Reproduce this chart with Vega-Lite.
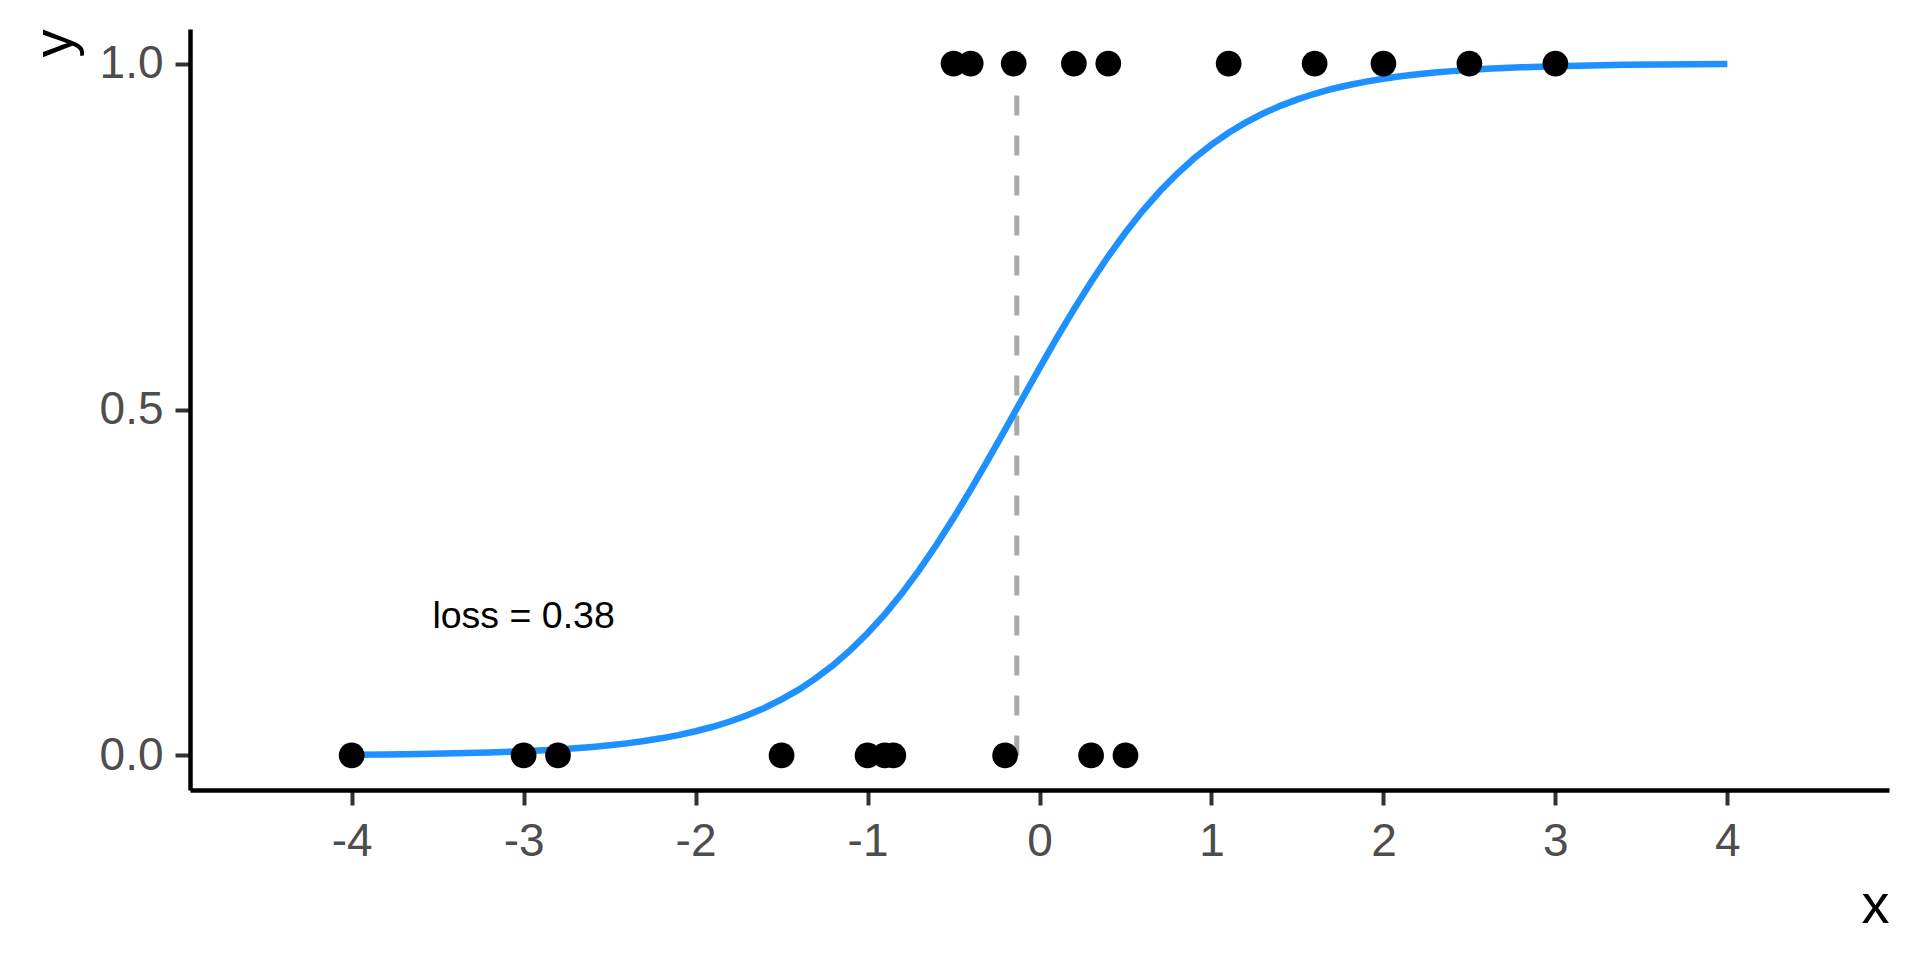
{
  "$schema": "https://vega.github.io/schema/vega-lite/v6.json",
  "width": 1699,
  "height": 761,
  "autosize": {"type": "none"},
  "padding": {"left": 190, "top": 29, "right": 31, "bottom": 170},
  "background": "white",
  "config": {
    "view": {"stroke": null},
    "font": "Liberation Sans",
    "axis": {
      "grid": false,
      "domainColor": "black",
      "domainWidth": 4.5,
      "tickColor": "#333333",
      "tickWidth": 4,
      "tickSize": 15,
      "labelColor": "#4D4D4D",
      "labelFont": "Liberation Sans",
      "labelFontSize": 46,
      "titleFont": "Liberation Sans",
      "titleFontSize": 56,
      "titleFontWeight": "normal",
      "titleColor": "black"
    }
  },
  "datasets": {
    "pts": [
      {"x": -4, "y": 0}, {"x": -3, "y": 0}, {"x": -2.8, "y": 0}, {"x": -1.5, "y": 0},
      {"x": -1, "y": 0}, {"x": -0.9, "y": 0}, {"x": -0.85, "y": 0}, {"x": -0.2, "y": 0},
      {"x": 0.3, "y": 0}, {"x": 0.5, "y": 0},
      {"x": -0.5, "y": 1}, {"x": -0.4, "y": 1}, {"x": -0.15, "y": 1}, {"x": 0.2, "y": 1},
      {"x": 0.4, "y": 1}, {"x": 1.1, "y": 1}, {"x": 1.6, "y": 1}, {"x": 2, "y": 1},
      {"x": 2.5, "y": 1}, {"x": 3, "y": 1}
    ],
    "curve": [
      {"x": -4.0, "p": 0.00103}, {"x": -3.8, "p": 0.00147}, {"x": -3.6, "p": 0.00209},
      {"x": -3.4, "p": 0.00298}, {"x": -3.2, "p": 0.00426}, {"x": -3.0, "p": 0.00606},
      {"x": -2.8, "p": 0.00862}, {"x": -2.6, "p": 0.0123}, {"x": -2.5, "p": 0.01462},
      {"x": -2.4, "p": 0.0174}, {"x": -2.3, "p": 0.02075},
      {"x": -2.2, "p": 0.0247}, {"x": -2.1, "p": 0.02937}, {"x": -2.0, "p": 0.0349},
      {"x": -1.9, "p": 0.0414}, {"x": -1.8, "p": 0.049}, {"x": -1.7, "p": 0.0581},
      {"x": -1.6, "p": 0.0686}, {"x": -1.5, "p": 0.0809}, {"x": -1.4, "p": 0.0951},
      {"x": -1.3, "p": 0.1116}, {"x": -1.2, "p": 0.1305}, {"x": -1.1, "p": 0.1521},
      {"x": -1.0, "p": 0.1766}, {"x": -0.9, "p": 0.2039}, {"x": -0.8, "p": 0.2343},
      {"x": -0.7, "p": 0.2678}, {"x": -0.6, "p": 0.3041}, {"x": -0.5, "p": 0.343},
      {"x": -0.4, "p": 0.3842}, {"x": -0.3, "p": 0.427}, {"x": -0.2, "p": 0.471},
      {"x": -0.1, "p": 0.5155}, {"x": 0.0, "p": 0.5597}, {"x": 0.1, "p": 0.603},
      {"x": 0.2, "p": 0.6447}, {"x": 0.3, "p": 0.6844}, {"x": 0.4, "p": 0.7215},
      {"x": 0.5, "p": 0.7558}, {"x": 0.6, "p": 0.7872}, {"x": 0.7, "p": 0.8155},
      {"x": 0.8, "p": 0.8408}, {"x": 0.9, "p": 0.8632}, {"x": 1.0, "p": 0.8829},
      {"x": 1.1, "p": 0.9001}, {"x": 1.2, "p": 0.915}, {"x": 1.3, "p": 0.9278},
      {"x": 1.4, "p": 0.9389}, {"x": 1.5, "p": 0.9483}, {"x": 1.6, "p": 0.9564},
      {"x": 1.7, "p": 0.9633}, {"x": 1.8, "p": 0.9691}, {"x": 1.9, "p": 0.974},
      {"x": 2.0, "p": 0.9781}, {"x": 2.1, "p": 0.9816}, {"x": 2.2, "p": 0.9846},
      {"x": 2.3, "p": 0.9871}, {"x": 2.4, "p": 0.9891}, {"x": 2.5, "p": 0.9909},
      {"x": 2.6, "p": 0.9924}, {"x": 2.8, "p": 0.9946}, {"x": 3.0, "p": 0.9962},
      {"x": 3.2, "p": 0.9974}, {"x": 3.4, "p": 0.9982}, {"x": 3.6, "p": 0.9987},
      {"x": 3.8, "p": 0.9991}, {"x": 4.0, "p": 0.9994}
    ],
    "boundary": [{"x": -0.132, "y0": 0, "y1": 1}],
    "note": [{"x": -3, "y": 0.2, "label": "loss = 0.38"}]
  },
  "layer": [
    {
      "data": {"name": "boundary"},
      "mark": {"type": "rule", "color": "#A9A9A9", "strokeWidth": 5, "strokeDash": [20, 20]},
      "encoding": {
        "x": {
          "field": "x", "type": "quantitative",
          "scale": {"domain": [-4.94, 4.94], "nice": false, "zero": false},
          "axis": {
            "title": "x",
            "values": [-4, -3, -2, -1, 0, 1, 2, 3, 4],
            "labelExpr": "'' + datum.value",
            "labelPadding": 14,
            "titleAnchor": "end",
            "titlePadding": 14
          }
        },
        "y": {
          "field": "y0", "type": "quantitative",
          "scale": {"domain": [-0.05, 1.05], "nice": false, "zero": false},
          "axis": {
            "title": "y",
            "values": [0, 0.5, 1],
            "format": ".1f",
            "labelPadding": 12,
            "titleAnchor": "end",
            "titlePadding": 16
          }
        },
        "y2": {"field": "y1"}
      }
    },
    {
      "data": {"name": "curve"},
      "mark": {"type": "line", "color": "#1E90FF", "strokeWidth": 6.5, "strokeCap": "butt"},
      "encoding": {
        "x": {"field": "x", "type": "quantitative"},
        "y": {"field": "p", "type": "quantitative"}
      }
    },
    {
      "data": {"name": "pts"},
      "mark": {"type": "circle", "color": "black", "opacity": 1, "size": 660},
      "encoding": {
        "x": {"field": "x", "type": "quantitative"},
        "y": {"field": "y", "type": "quantitative"}
      }
    },
    {
      "data": {"name": "note"},
      "mark": {"type": "text", "font": "Liberation Sans", "fontSize": 37.5, "color": "black", "align": "center", "baseline": "middle"},
      "encoding": {
        "x": {"field": "x", "type": "quantitative"},
        "y": {"field": "y", "type": "quantitative"},
        "text": {"field": "label"}
      }
    }
  ]
}
